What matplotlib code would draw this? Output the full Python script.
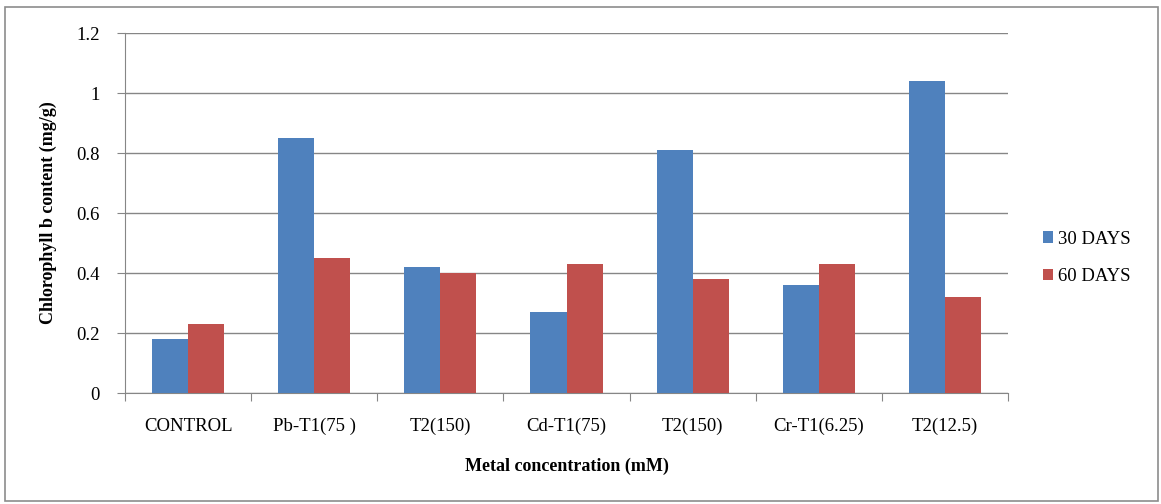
import numpy as np
import matplotlib.pyplot as plt
from matplotlib.patches import Rectangle

categories = ['CONTROL', 'Pb-T1(75 )', 'T2(150)', 'Cd-T1(75)', 'T2(150)', 'Cr-T1(6.25)', 'T2(12.5)']
days30 = [0.18, 0.85, 0.42, 0.27, 0.81, 0.36, 1.04]
days60 = [0.23, 0.45, 0.40, 0.43, 0.38, 0.43, 0.32]

plt.rcParams['font.family'] = ['Liberation Serif', 'DejaVu Serif']

fig = plt.figure(figsize=(11.61, 5.04), dpi=100)
fig.patches.append(Rectangle((0.004, 0.006), 0.993, 0.981, transform=fig.transFigure,
                             fill=False, edgecolor='#8c8c8c', linewidth=1.2))
ax = fig.add_axes([0.1077, 0.2202, 0.7605, 0.7143])

x = np.arange(len(categories))
w = 0.286
ax.bar(x - w / 2, days30, width=w, color='#4F81BD', label='30 DAYS', zorder=3)
ax.bar(x + w / 2, days60, width=w, color='#C0504D', label='60 DAYS', zorder=3)

ax.set_xlim(-0.5, len(categories) - 0.5)
ax.set_ylim(0, 1.2)
ax.set_yticks(np.arange(0, 1.21, 0.2))
ax.set_yticklabels(['0', '0.2', '0.4', '0.6', '0.8', '1', '1.2'], fontsize=13.5)
ax.yaxis.grid(True, color='#868686', linewidth=1, zorder=0)

# category labels between boundary ticks
ax.set_xticks(np.arange(-0.5, len(categories), 1.0))
ax.set_xticklabels([])
ax.set_xticks(x, minor=True)
ax.set_xticklabels(categories, minor=True, fontsize=13.5)
ax.tick_params(axis='x', which='minor', length=0, pad=18)
ax.tick_params(axis='x', which='major', length=6, color='#868686', direction='out')
ax.tick_params(axis='y', length=6, color='#868686', pad=12)

for s in ['top', 'right']:
    ax.spines[s].set_visible(False)
ax.spines['left'].set_color('#868686')
ax.spines['bottom'].set_color('#868686')

ax.set_ylabel('Chlorophyll b content (mg/g)', fontsize=13, fontweight='bold', labelpad=14)
ax.set_xlabel('Metal concentration (mM)', fontsize=13, fontweight='bold', labelpad=16)

ax.legend(loc='center left', bbox_to_anchor=(1.02, 0.375), frameon=False, fontsize=13.5,
          handlelength=0.55, handleheight=0.55, handletextpad=0.3, labelspacing=1.1)

plt.savefig('out.png', dpi=100)
plt.close()
